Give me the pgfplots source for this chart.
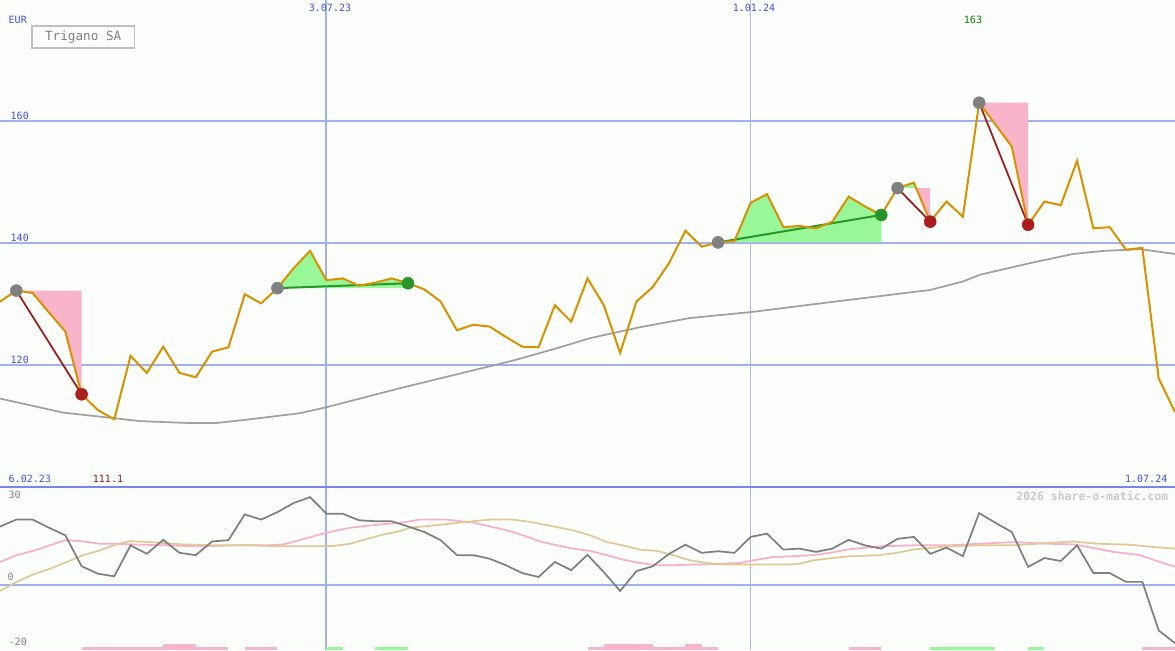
\documentclass[border=0pt]{standalone}
\usepackage{pgfplots}
\pgfplotsset{compat=1.18}
\usepackage{pgfplotstable}
\usepackage{fontspec}
\newfontfamily\mono{DejaVu Sans Mono}

\definecolor{bg}{RGB}{252,254,252}
\definecolor{gridblue}{RGB}{160,176,240}
\definecolor{sepblue}{RGB}{122,132,240}
\definecolor{vline}{RGB}{176,184,224}
\definecolor{lblblue}{RGB}{64,80,240}
\definecolor{price}{RGB}{217,145,0}
\definecolor{magray}{RGB}{160,160,160}
\definecolor{fillpink}{RGB}{248,180,200}
\definecolor{fillgreen}{RGB}{152,248,152}
\definecolor{redline}{RGB}{160,24,24}
\definecolor{reddot}{RGB}{170,30,30}
\definecolor{greenline}{RGB}{40,150,40}
\definecolor{dotgray}{RGB}{128,128,128}
\definecolor{oscgray}{RGB}{128,128,128}
\definecolor{oscpink}{RGB}{248,176,200}
\definecolor{osctan}{RGB}{224,200,152}
\definecolor{txtgray}{RGB}{128,128,128}
\definecolor{wmgray}{RGB}{200,200,200}
\definecolor{boxgray}{RGB}{192,192,192}

% weekly closing prices, week 0 = mid Feb 2023
\pgfplotstableread{
w p
0 130.4
1 132.2
2 131.8
3 128.6
4 125.5
5 115.2
6 112.6
7 111.1
8 121.5
9 118.7
10 123.0
11 118.7
12 118.0
13 122.2
14 122.9
15 131.6
16 130.1
17 132.6
18 135.9
19 138.7
20 133.9
21 134.2
22 133.0
23 133.5
24 134.2
25 133.4
26 132.4
27 130.4
28 125.7
29 126.6
30 126.3
31 124.6
32 123.0
33 122.9
34 129.8
35 127.1
36 134.2
37 129.8
38 122.0
39 130.4
40 132.8
41 136.7
42 142.0
43 139.4
44 140.1
45 140.3
46 146.6
47 148.0
48 142.6
49 142.8
50 142.4
51 143.5
52 147.6
53 146.0
54 144.6
55 149.0
56 149.9
57 143.5
58 146.8
59 144.3
60 163.0
61 159.4
62 155.8
63 143.0
64 146.8
65 146.2
66 153.5
67 142.4
68 142.6
69 138.9
70 139.2
71 117.8
72 112.3
}\pricetab

% moving average
\pgfplotstableread{
w m
0 114.5
3.86 112.2
6.92 111.3
8.58 110.8
11.46 110.5
13.30 110.5
15.32 111.1
18.38 112.1
20.04 113.1
24.51 116.2
27.57 118.2
30.64 120.2
31.68 120.9
34.31 122.9
36.15 124.4
39.22 126.2
42.28 127.7
46.08 128.7
51.47 130.5
56.99 132.3
59.01 133.7
60.05 134.8
63.11 136.7
65.75 138.2
67.59 138.7
69.85 139.0
72 138.2
}\matab

% oscillator, dark line
\pgfplotstableread{
w v
0 17.9
1 20.0
2 20.0
3 17.5
4 15.2
5 5.7
6 3.4
7 2.6
8 12.1
9 9.5
10 13.8
11 9.8
12 9.1
13 13.3
14 13.7
15 21.6
16 20.0
17 22.3
18 25.1
19 26.9
20 21.8
21 21.8
22 19.8
23 19.5
24 19.5
25 17.9
26 16.2
27 13.7
28 9.1
29 9.1
30 8.0
31 6.0
32 3.6
33 2.4
34 7.0
35 4.5
36 9.2
37 3.9
38 -1.9
39 4.2
40 5.7
41 9.5
42 12.3
43 9.8
44 10.3
45 9.8
46 14.7
47 15.7
48 10.8
49 11.1
50 10.1
51 11.1
52 13.8
53 12.1
54 11.1
55 14.1
56 14.7
57 9.5
58 11.4
59 8.8
60 22.0
61 19.0
62 16.2
63 5.5
64 8.2
65 7.3
66 12.1
67 3.6
68 3.6
69 0.9
70 0.9
71 -14.0
72 -17.9
}\oscA

\pgfplotstableread{
w v
0 7.0
1.02 9.1
2.04 10.4
3.06 12.1
3.98 13.7
5.09 13.3
6.13 12.6
7.17 12.6
8.58 12.3
10.23 12.1
12.25 11.8
14.28 12.1
16.36 12.1
17.34 12.4
18.38 13.7
19.42 15.2
20.40 16.4
21.45 17.5
22.49 18.1
23.47 18.6
24.51 19.0
25.74 20.0
27.39 20.0
28.98 19.1
30.02 17.9
31.07 16.7
32.05 15.2
33.09 13.3
34.13 12.1
35.11 11.1
36.15 10.4
37.19 9.1
38.17 7.7
39.22 6.7
40.26 6.0
41.24 6.0
43.32 6.3
45.34 6.7
46.38 7.7
47.36 8.5
48.41 8.7
49.82 9.1
50.86 9.8
51.90 10.8
52.88 11.3
53.92 11.8
55.94 12.1
58.03 12.1
60.05 12.6
62.07 13.1
64.15 12.6
65.75 12.4
67.22 11.1
68.20 10.1
69.85 9.1
70.89 7.3
72 5.5
}\oscB

\pgfplotstableread{
w v
0 -1.9
1.02 0.9
2.04 3.2
3.06 4.9
4.09 7.0
5.10 9.1
6.13 10.6
7.15 12.4
7.97 13.4
9.19 13.1
11.21 12.4
13.30 12.1
15.32 12.1
17.34 11.8
18.38 11.8
20.40 11.9
21.45 12.6
22.49 14.1
23.47 15.4
24.51 16.5
25.12 17.5
26.96 18.4
28.98 19.5
30.02 20.0
31.43 20.0
32.48 19.3
34.13 17.7
35.11 16.7
36.15 15.2
37.19 13.1
38.17 12.1
39.22 10.8
40.26 10.4
41.24 9.1
42.28 7.5
43.32 6.7
44.30 6.2
46.38 6.2
48.41 6.2
49.02 6.5
49.82 7.5
51.90 8.7
53.92 9.1
54.96 9.8
55.94 10.8
58.03 11.8
60.05 12.1
62.07 12.1
64.15 12.8
65.75 13.3
67.22 12.6
69.24 12.3
70.65 11.6
72 11.1
}\oscC

\begin{document}
\begin{tikzpicture}[x=0.75pt,y=0.75pt]
\fill[bg,use as bounding box] (0,0) rectangle (1175,650);

% ---- lower panel: oscillator ----
\begin{axis}[at={(0pt,0pt)}, anchor=south west, scale only axis,
    width=881.25pt, height=122.25pt, hide axis, clip=false,
    xmin=0, xmax=72, ymin=-20, ymax=30]
  \draw[gridblue, line width=1.5pt] (axis cs:0,0) -- (axis cs:72,0);
  \draw[gridblue, line width=1.5pt] (axis cs:20,-20) -- (axis cs:20,30);
  \draw[vline, line width=1pt] (axis cs:46,-20) -- (axis cs:46,30);
  % signal bars
  \addplot[fill=fillpink, draw=none] coordinates {(5,-20) (5,-19.1) (14,-19.1) (14,-20)} -- cycle;
  \addplot[fill=fillpink, draw=none] coordinates {(10,-20) (10,-18.1) (12,-18.1) (12,-20)} -- cycle;
  \addplot[fill=fillpink, draw=none] coordinates {(15,-20) (15,-19.1) (17,-19.1) (17,-20)} -- cycle;
  \addplot[fill=fillgreen, draw=none] coordinates {(20,-20) (20,-19.1) (21,-19.1) (21,-20)} -- cycle;
  \addplot[fill=fillgreen, draw=none] coordinates {(23,-20) (23,-19.1) (25,-19.1) (25,-20)} -- cycle;
  \addplot[fill=fillpink, draw=none] coordinates {(36,-20) (36,-19.1) (44,-19.1) (44,-20)} -- cycle;
  \addplot[fill=fillpink, draw=none] coordinates {(37,-20) (37,-18.1) (40,-18.1) (40,-20)} -- cycle;
  \addplot[fill=fillpink, draw=none] coordinates {(42,-20) (42,-18.1) (43,-18.1) (43,-20)} -- cycle;
  \addplot[fill=fillpink, draw=none] coordinates {(52,-20) (52,-19.1) (54,-19.1) (54,-20)} -- cycle;
  \addplot[fill=fillgreen, draw=none] coordinates {(57,-20) (57,-19.1) (61,-19.1) (61,-20)} -- cycle;
  \addplot[fill=fillgreen, draw=none] coordinates {(63,-20) (63,-19.1) (64,-19.1) (64,-20)} -- cycle;
  \addplot[fill=fillpink, draw=none] coordinates {(70,-20) (70,-19.1) (72,-19.1) (72,-20)} -- cycle;
  % lines
  \addplot[oscpink, line width=1.3pt] table[x=w,y=v]{\oscB};
  \addplot[osctan, line width=1.3pt] table[x=w,y=v]{\oscC};
  \addplot[oscgray, line width=1.3pt] table[x=w,y=v]{\oscA};
\end{axis}

% ---- upper panel: price ----
\begin{axis}[at={(0pt,122.25pt)}, anchor=south west, scale only axis,
    width=881.25pt, height=365.25pt, hide axis, clip=false,
    xmin=0, xmax=72, ymin=100, ymax=179.84]
  \draw[gridblue, line width=1.5pt] (axis cs:0,120) -- (axis cs:72,120);
  \draw[gridblue, line width=1.5pt] (axis cs:0,140) -- (axis cs:72,140);
  \draw[gridblue, line width=1.5pt] (axis cs:0,160) -- (axis cs:72,160);
  \draw[gridblue, line width=1.5pt] (axis cs:20,100) -- (axis cs:20,179.84);
  \draw[vline, line width=1pt] (axis cs:46,100) -- (axis cs:46,179.84);
  \draw[sepblue, line width=1.5pt] (axis cs:0,100) -- (axis cs:72,100);
  % signal areas
  \addplot[fill=fillpink, draw=none] coordinates {(1,132.2) (2,131.8) (3,128.6) (4,125.5) (5,115.2) (5,132.2)} -- cycle;
  \addplot[fill=fillgreen, draw=none] coordinates {(17,132.6) (18,135.9) (19,138.7) (20,133.9) (21,134.2) (22,133.0) (23,133.5) (24,134.2) (25,133.4) (25,132.6)} -- cycle;
  \addplot[fill=fillgreen, draw=none] coordinates {(44,140.1) (45,140.3) (46,146.6) (47,148.0) (48,142.6) (49,142.8) (50,142.4) (51,143.5) (52,147.6) (53,146.0) (54,144.6) (54,140.1)} -- cycle;
  \addplot[fill=fillgreen, draw=none] coordinates {(55,149.0) (56,149.9) (56.14,149.0)} -- cycle;
  \addplot[fill=fillpink, draw=none] coordinates {(56.14,149.0) (57,143.5) (57,149.0)} -- cycle;
  \addplot[fill=fillpink, draw=none] coordinates {(60,163.0) (61,159.4) (62,155.8) (63,143.0) (63,163.0)} -- cycle;
  % moving average
  \addplot[magray, line width=1.3pt] table[x=w,y=m]{\matab};
  % signal lines
  \addplot[redline, line width=1.3pt] coordinates {(1,132.2) (5,115.2)};
  \addplot[redline, line width=1.3pt] coordinates {(55,149.0) (57,143.5)};
  \addplot[redline, line width=1.3pt] coordinates {(60,163.0) (63,143.0)};
  \addplot[greenline, line width=1.5pt] coordinates {(17,132.6) (25,133.4)};
  \addplot[greenline, line width=1.5pt] coordinates {(44,140.1) (54,144.6)};
  % dots
  \addplot[only marks, mark=*, mark size=4.5pt, color=dotgray] coordinates {(1,132.2) (17,132.6) (44,140.1) (55,149.0) (60,163.0)};
  \addplot[only marks, mark=*, mark size=4.5pt, color=reddot] coordinates {(5,115.2) (57,143.5) (63,143.0)};
  \addplot[only marks, mark=*, mark size=4.5pt, color=greenline] coordinates {(25,133.4) (54,144.6)};
  % price
  \addplot[price, line width=1.5pt] table[x=w,y=p]{\pricetab};
\end{axis}

% ---- labels ----
\begin{scope}[font=\mono\fontsize{7.5}{8}\selectfont]
  \node[lblblue, anchor=west] at (4,630) {EUR};
  \node[lblblue, anchor=west] at (6,534) {160};
  \node[lblblue, anchor=west] at (6,412) {140};
  \node[lblblue, anchor=west] at (6,290) {120};
  \node[lblblue] at (330,642) {3.07.23};
  \node[lblblue] at (754,642) {1.01.24};
  \node[text=green!50!black] at (973,630) {163};
  \node[lblblue, anchor=west] at (4,171) {6.02.23};
  \node[text=redline] at (108,171) {111.1};
  \node[lblblue, anchor=east] at (1172,171) {1.07.24};
  \node[txtgray, anchor=west] at (4,155) {30};
  \node[txtgray, anchor=west] at (3,73) {0};
  \node[txtgray, anchor=west] at (4,8) {-20};
\end{scope}
\node[font=\mono\bfseries\fontsize{8.6}{9}\selectfont, wmgray, anchor=east] at (1173,154) {2026 share-o-matic.com};
\node[draw=boxgray, line width=1.2pt, text=txtgray, anchor=north west,
      minimum width=77pt, minimum height=16.5pt, inner sep=1pt,
      font=\mono\fontsize{9.5}{10}\selectfont] at (31,625) {Trigano SA};
\end{tikzpicture}
\end{document}
